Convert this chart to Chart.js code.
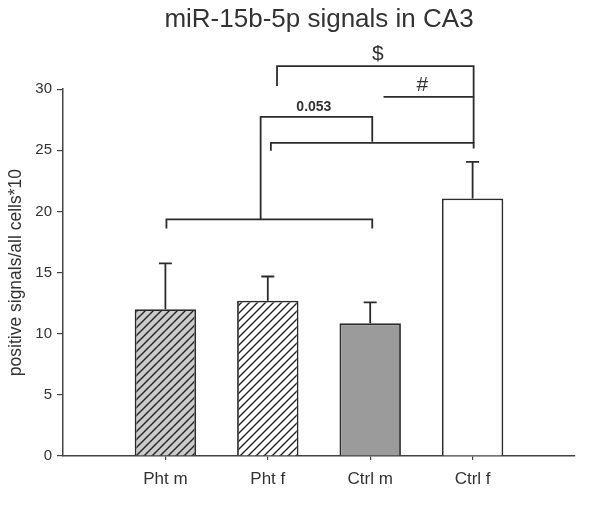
<!DOCTYPE html>
<html>
<head>
<meta charset="utf-8">
<script src="https://cdn.jsdelivr.net/npm/chart.js@4.4.1/dist/chart.umd.min.js"></script>
<style>
  html, body { margin: 0; padding: 0; background: #fff; }
  #wrap { width: 589px; height: 506px; }
</style>
</head>
<body>
<div id="wrap"><canvas id="c" width="589" height="506"></canvas></div>
<script>
// ---- data ----
const categories = ['Pht m', 'Pht f', 'Ctrl m', 'Ctrl f'];
const positions = [0, 1, 2, 3];
const means = [12.0, 12.7, 10.85, 21.07];
const upperErrors = [3.75, 1.98, 1.72, 2.99];
const yTicks = [0, 5, 10, 15, 20, 25, 30];

// significance brackets as polylines in data units [x (category index), y (value)]
const bracketGroupLow = [[0.01, 18.6], [0.01, 19.36], [2.02, 19.36], [2.02, 18.6]];
const bracketStem053 = [[0.93, 19.36], [0.93, 27.74], [2.02, 27.74], [2.02, 25.7]];
const bracketMiddle = [[1.03, 24.96], [1.03, 25.61], [3.01, 25.61], [3.01, 25.16]];
const bracketDollar = [[1.09, 30.27], [1.09, 31.88], [3.01, 31.88], [3.01, 25.61]];
const bracketHash = [[2.13, 29.37], [3.01, 29.37]];
const bracketLabels = [
  { text: '$', x: 2.075, y: 32.9, bold: false, size: 21 },
  { text: '#', x: 2.51, y: 30.3, bold: false, size: 21 },
  { text: '0.053', x: 1.45, y: 28.56, bold: true, size: 14 }
];

// ---- styles ----
const INK = '#2b2b2b';
const TEXT = '#333333';
const FONT = "'Liberation Sans', Arial, Helvetica, sans-serif";

function hatch(bg) {
  const s = 8;
  const p = document.createElement('canvas');
  p.width = s; p.height = s;
  const g = p.getContext('2d');
  g.fillStyle = bg;
  g.fillRect(0, 0, s, s);
  g.strokeStyle = '#222';
  g.lineWidth = 1.4;
  g.beginPath();
  g.moveTo(0, s); g.lineTo(s, 0);
  g.moveTo(-2, 2); g.lineTo(2, -2);
  g.moveTo(s - 2, s + 2); g.lineTo(s + 2, s - 2);
  g.stroke();
  return document.getElementById('c').getContext('2d').createPattern(p, 'repeat');
}

const fills = [hatch('#cbcbcb'), hatch('#ffffff'), '#9b9b9b', '#ffffff'];

const errorBars = {
  id: 'errorBars',
  afterDatasetsDraw(chart) {
    const ctx = chart.ctx;
    const meta = chart.getDatasetMeta(0);
    const ys = chart.scales.y;
    ctx.save();
    ctx.strokeStyle = INK;
    ctx.lineWidth = 1.8;
    meta.data.forEach((bar, i) => {
      const top = ys.getPixelForValue(means[i] + upperErrors[i]);
      const base = ys.getPixelForValue(means[i]);
      ctx.beginPath();
      ctx.moveTo(bar.x, base);
      ctx.lineTo(bar.x, top);
      ctx.moveTo(bar.x - 6.5, top);
      ctx.lineTo(bar.x + 6.5, top);
      ctx.stroke();
    });
    ctx.restore();
  }
};

const brackets = {
  id: 'brackets',
  afterDraw(chart) {
    const ctx = chart.ctx;
    const xs = chart.scales.x, ys = chart.scales.y;
    ctx.save();
    ctx.strokeStyle = INK;
    ctx.lineWidth = 1.8;
    ctx.lineJoin = 'miter';
    [bracketGroupLow, bracketStem053, bracketMiddle, bracketDollar, bracketHash].forEach(line => {
      ctx.beginPath();
      line.forEach((pt, k) => {
        const px = xs.getPixelForValue(pt[0]);
        const py = ys.getPixelForValue(pt[1]);
        if (k === 0) ctx.moveTo(px, py); else ctx.lineTo(px, py);
      });
      ctx.stroke();
    });
    ctx.fillStyle = TEXT;
    ctx.textAlign = 'center';
    ctx.textBaseline = 'middle';
    bracketLabels.forEach(l => {
      ctx.font = (l.bold ? 'bold ' : '') + l.size + 'px ' + FONT;
      ctx.fillText(l.text, xs.getPixelForValue(l.x), ys.getPixelForValue(l.y));
    });
    ctx.restore();
  }
};

new Chart(document.getElementById('c'), {
  type: 'bar',
  data: {
    datasets: [{
      data: positions.map((x, i) => ({ x: x, y: means[i] })),
      backgroundColor: fills,
      borderColor: INK,
      borderWidth: 1.8,
      barPercentage: 0.6,
      categoryPercentage: 1.0
    }]
  },
  options: {
    responsive: false,
    animation: false,
    devicePixelRatio: 1,
    layout: { padding: { left: 0, right: 14, top: 0, bottom: 0 } },
    plugins: {
      legend: { display: false },
      tooltip: { enabled: false },
      title: {
        display: true,
        fullSize: false,
        text: 'miR-15b-5p signals in CA3',
        color: TEXT,
        font: { family: FONT, size: 26, weight: 'normal' },
        padding: { top: 4, bottom: 54 }
      }
    },
    scales: {
      x: {
        type: 'linear',
        min: -1,
        max: 4,
        offset: false,
        afterBuildTicks(scale) { scale.ticks = positions.map(v => ({ value: v })); },
        afterFit(scale) { scale.height = 50; },
        grid: { drawOnChartArea: false, offset: false, tickLength: 4, color: '#444', lineWidth: 1.2 },
        border: { display: true, color: '#444', width: 1.5 },
        ticks: {
          padding: 9,
          color: TEXT,
          font: { family: FONT, size: 17 },
          callback: v => categories[v] !== undefined ? categories[v] : ''
        }
      },
      y: {
        min: 0,
        max: 30,
        afterBuildTicks(scale) { scale.ticks = yTicks.map(v => ({ value: v })); },
        afterFit(scale) { scale.width = 63; },
        grid: { drawOnChartArea: false, tickLength: 6, color: '#444', lineWidth: 1.2 },
        border: { display: true, color: '#444', width: 1.5 },
        ticks: {
          padding: 5,
          color: TEXT,
          font: { family: FONT, size: 15 }
        },
        title: {
          display: true,
          text: 'positive signals/all cells*10',
          color: TEXT,
          font: { family: FONT, size: 17.5 },
          padding: { top: 6, bottom: 0 }
        }
      }
    }
  },
  plugins: [errorBars, brackets]
});
</script>
</body>
</html>
